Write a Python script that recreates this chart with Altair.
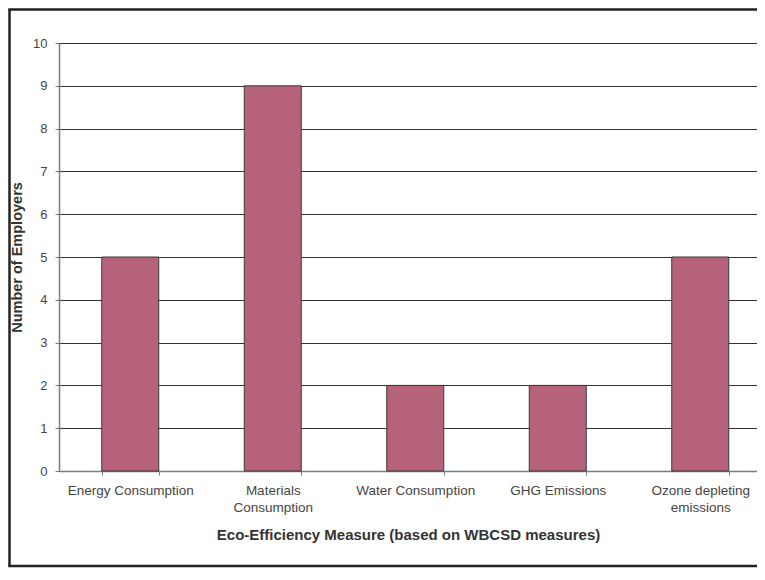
import altair as alt
import pandas as pd

categories = ["Energy Consumption", "Materials Consumption", "Water Consumption",
              "GHG Emissions", "Ozone depleting emissions"]
employers = [5, 9, 2, 2, 5]
y_ticks = [0, 1, 2, 3, 4, 5, 6, 7, 8, 9, 10]

df = pd.DataFrame({"measure": categories, "count": employers})

FONT = "Liberation Sans"
W, H = 698, 428
PAD_L, PAD_T, PAD_B = 51, 35, 97

label_expr = ("datum.label == 'Materials Consumption' ? ['Materials', 'Consumption'] : "
              "datum.label == 'Ozone depleting emissions' ? ['Ozone depleting', 'emissions'] : "
              "datum.label")

one = pd.DataFrame({"a": [0]})
fx0 = -PAD_L + 1.5
fy0 = -PAD_T + 1.5
fy1 = H + PAD_B - 2
frame_style = dict(stroke="#222222", strokeWidth=2.5)
frame_top = alt.Chart(one).mark_rule(**frame_style).encode(
    x=alt.value(fx0 - 1.25), x2=alt.value(W + 10), y=alt.value(fy0))
frame_bottom = alt.Chart(one).mark_rule(**frame_style).encode(
    x=alt.value(fx0 - 1.25), x2=alt.value(W + 10), y=alt.value(fy1))
frame_left = alt.Chart(one).mark_rule(**frame_style).encode(
    x=alt.value(fx0), y=alt.value(fy0), y2=alt.value(fy1))

bars = alt.Chart(df).mark_bar(
    color="#B5627A", stroke="#3a3a3a", strokeWidth=1
).encode(
    x=alt.X("measure:N", sort=categories,
            scale=alt.Scale(range=[0, 712.5], paddingInner=0.6, paddingOuter=0.3),
            axis=alt.Axis(title="Eco-Efficiency Measure (based on WBCSD measures)",
                          labelAngle=0, labelExpr=label_expr, labelLineHeight=17,
                          labelFont=FONT, labelFontSize=13.5, labelColor="#454545",
                          labelPadding=8.5, tickSize=4, tickBand="extent",
                          tickColor="#6f7f84", domainColor="#6f7f84", domainWidth=1.5,
                          grid=False,
                          titleFont=FONT, titleFontSize=15, titleFontWeight="bold",
                          titleColor="#333333", titleX=W / 2, titleY=63,
                          titleBaseline="middle", titleAlign="center")),
    y=alt.Y("count:Q", scale=alt.Scale(domain=[0, 10], nice=False),
            axis=alt.Axis(title="Number of Employers", values=y_ticks,
                          labelFont=FONT, labelFontSize=13, labelColor="#454545",
                          labelPadding=8, tickSize=4, tickColor="#6f7f84",
                          domainColor="#6f7f84", domainWidth=1.5,
                          grid=True, gridColor="#333333", gridWidth=1,
                          titleFont=FONT, titleFontSize=14.5, titleFontWeight="bold",
                          titleColor="#333333", titleX=-42, titleY=H / 2,
                          titleAngle=-90, titleBaseline="middle", titleAlign="center"))
)

chart = alt.layer(frame_top, frame_bottom, frame_left, bars).properties(
    width=W, height=H,
    autosize=alt.AutoSizeParams(type="none"),
    padding={"left": PAD_L, "top": PAD_T, "right": 0, "bottom": PAD_B},
    background="white"
).configure_view(stroke=None)

chart.save("out.html", embed_options={"renderer": "svg", "actions": False})
